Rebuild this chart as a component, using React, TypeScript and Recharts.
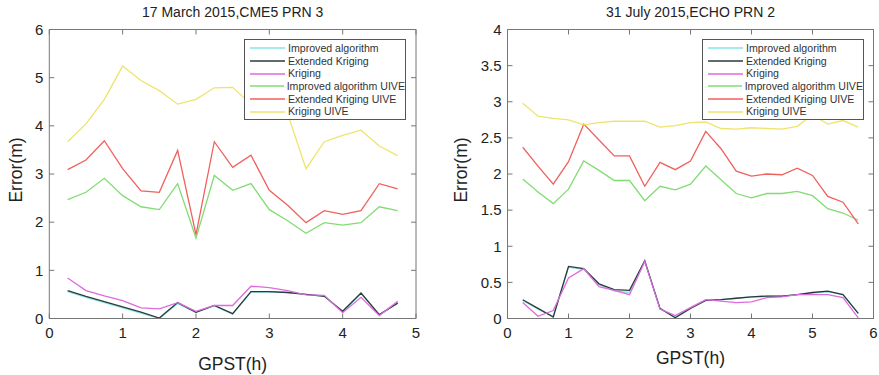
import { LineChart, Line, XAxis, YAxis, Legend } from "recharts";

// time axis (GPST hours), one sample every 15 min
const marchHours = [0.25, 0.5, 0.75, 1, 1.25, 1.5, 1.75, 2, 2.25, 2.5, 2.75, 3, 3.25, 3.5, 3.75, 4, 4.25, 4.5, 4.75];
const julyHours = [0.25, 0.5, 0.75, 1, 1.25, 1.5, 1.75, 2, 2.25, 2.5, 2.75, 3, 3.25, 3.5, 3.75, 4, 4.25, 4.5, 4.75, 5, 5.25, 5.5, 5.75];

const seriesNames = [
  "Improved algorithm",
  "Extended Kriging",
  "Kriging",
  "Improved algorithm UIVE",
  "Extended Kriging UIVE",
  "Kriging UIVE",
];

// 17 March 2015, CME5 PRN 3
const marchImproved = [0.56, 0.44, 0.33, 0.22, 0.11, 0.0, 0.31, 0.13, 0.26, 0.09, 0.55, 0.55, 0.54, 0.5, 0.47, 0.14, 0.52, 0.07, 0.33];
const marchExtended = [0.58, 0.46, 0.35, 0.24, 0.13, 0.01, 0.33, 0.13, 0.27, 0.1, 0.56, 0.56, 0.54, 0.5, 0.46, 0.15, 0.53, 0.08, 0.32];
const marchKriging = [0.84, 0.58, 0.47, 0.37, 0.22, 0.2, 0.33, 0.15, 0.27, 0.27, 0.67, 0.64, 0.58, 0.49, 0.48, 0.12, 0.44, 0.06, 0.36];
const marchImprovedUive = [2.47, 2.62, 2.91, 2.55, 2.32, 2.26, 2.8, 1.67, 2.97, 2.66, 2.8, 2.26, 2.03, 1.77, 1.99, 1.94, 1.99, 2.32, 2.24];
const marchExtendedUive = [3.09, 3.29, 3.69, 3.11, 2.65, 2.62, 3.49, 1.74, 3.67, 3.14, 3.39, 2.66, 2.35, 1.99, 2.24, 2.16, 2.24, 2.8, 2.69];
const marchKrigingUive = [3.67, 4.04, 4.55, 5.24, 4.94, 4.73, 4.45, 4.55, 4.79, 4.8, 4.45, 4.4, 4.25, 3.11, 3.67, 3.8, 3.91, 3.58, 3.38];

// 31 July 2015, ECHO PRN 2
const julyImproved = [0.25, 0.13, 0.03, 0.71, 0.68, 0.47, 0.38, 0.36, 0.79, 0.13, 0.02, 0.15, 0.25, 0.26, 0.28, 0.3, 0.31, 0.31, 0.33, 0.35, 0.37, 0.33, 0.07];
const julyExtended = [0.26, 0.14, 0.02, 0.72, 0.69, 0.48, 0.4, 0.39, 0.8, 0.14, 0.01, 0.14, 0.25, 0.26, 0.28, 0.3, 0.31, 0.31, 0.33, 0.36, 0.38, 0.33, 0.07];
const julyKriging = [0.22, 0.03, 0.11, 0.56, 0.69, 0.44, 0.39, 0.33, 0.79, 0.13, 0.04, 0.15, 0.26, 0.24, 0.22, 0.23, 0.29, 0.3, 0.33, 0.33, 0.33, 0.29, 0.01];
const julyImprovedUive = [1.93, 1.75, 1.59, 1.79, 2.18, 2.05, 1.91, 1.91, 1.63, 1.83, 1.78, 1.86, 2.11, 1.92, 1.73, 1.67, 1.73, 1.73, 1.76, 1.7, 1.52, 1.46, 1.36];
const julyExtendedUive = [2.37, 2.11, 1.86, 2.17, 2.69, 2.47, 2.25, 2.25, 1.83, 2.16, 2.06, 2.18, 2.59, 2.35, 2.04, 1.97, 2.0, 1.99, 2.08, 1.98, 1.69, 1.61, 1.31];
const julyKrigingUive = [2.98, 2.8, 2.77, 2.75, 2.68, 2.71, 2.73, 2.73, 2.73, 2.65, 2.67, 2.71, 2.72, 2.63, 2.62, 2.64, 2.63, 2.62, 2.66, 2.82, 2.69, 2.74, 2.65];

const marchXTicks = [0, 1, 2, 3, 4, 5];
const marchYTicks = [0, 1, 2, 3, 4, 5, 6];
const julyXTicks = [0, 1, 2, 3, 4, 5, 6];
const julyYTicks = [0, 0.5, 1, 1.5, 2, 2.5, 3, 3.5, 4];

const colors = ["#86e6e6", "#2b3b3a", "#de6ade", "#82dc74", "#f0605c", "#eee46c"];
const keys = ["s0", "s1", "s2", "s3", "s4", "s5"];
const FONT = '"Liberation Sans", Arial, sans-serif';
const BOX = "#777";

// box-only axes: keep the inward tick marks, no labels
const NoLabel = () => <g />;

const LegendBox = ({ payload }: any) => {
  const items = seriesNames.map((n) => (payload || []).find((p: any) => p.value === n)).filter(Boolean);
  return (
    <div
      style={{
        border: "1px solid #555",
        background: "#fff",
        width: 162,
        height: 81,
        paddingTop: 2,
        boxSizing: "border-box",
        fontFamily: FONT,
      }}
    >
      {items.map((e: any) => (
        <div key={e.value} style={{ display: "flex", alignItems: "center", height: 12.7 }}>
          <svg width={40} height={4} style={{ display: "block" }}>
            <line x1={5} x2={40} y1={2} y2={2} stroke={e.color} strokeWidth={1.3} />
          </svg>
          <span style={{ marginLeft: 3, fontSize: 10.6, color: "#333", lineHeight: "12.7px", whiteSpace: "nowrap" }}>
            {e.value}
          </span>
        </div>
      ))}
    </div>
  );
};

interface PanelProps {
  title: string;
  hours: number[];
  series: number[][];
  xTicks: number[];
  yTicks: number[];
  width: number;
  yAxisWidth: number;
  rightGap: number;
  legendLeft: number;
  errorX: number;
  gpstY: number;
}

function ErrorPanel(p: PanelProps) {
  const data = p.hours.map((h, i) => {
    const row: any = { h };
    p.series.forEach((s, k) => (row[keys[k]] = s[i]));
    return row;
  });
  const xDomain = [p.xTicks[0], p.xTicks[p.xTicks.length - 1]];
  const yDomain = [p.yTicks[0], p.yTicks[p.yTicks.length - 1]];
  const tickStyle = { fontSize: 15, fill: "#222", fontFamily: FONT };

  return (
    <div style={{ position: "relative", width: p.width, height: 375 }}>
      <div
        style={{
          position: "absolute",
          left: p.yAxisWidth,
          width: p.width - p.yAxisWidth - p.rightGap,
          top: 4,
          textAlign: "center",
          fontSize: 14,
          lineHeight: "17px",
          color: "#222",
          fontFamily: FONT,
        }}
      >
        {p.title}
      </div>
      <LineChart
        width={p.width}
        height={375}
        data={data}
        margin={{ top: 28.5, right: p.rightGap - 1, left: 0, bottom: 0 }}
      >
        <XAxis
          dataKey="h"
          type="number"
          domain={xDomain}
          ticks={p.xTicks}
          allowDataOverflow
          height={56.5}
          tickSize={-5}
          tickMargin={14}
          tick={tickStyle}
          axisLine={{ stroke: BOX }}
          tickLine={{ stroke: BOX }}
          label={(lp: any) => (
            <text
              x={lp.viewBox.x + lp.viewBox.width / 2}
              y={lp.viewBox.y + p.gpstY}
              textAnchor="middle"
              dominantBaseline="central"
              fontSize={17.5}
              fill="#222"
              fontFamily={FONT}
            >
              GPST(h)
            </text>
          )}
        />
        <XAxis
          xAxisId="top"
          dataKey="h"
          orientation="top"
          type="number"
          domain={xDomain}
          ticks={p.xTicks}
          allowDataOverflow
          height={1}
          tickSize={-5}
          tickMargin={0}
          tick={NoLabel}
          axisLine={{ stroke: BOX }}
          tickLine={{ stroke: BOX }}
        />
        <YAxis
          type="number"
          domain={yDomain}
          ticks={p.yTicks}
          allowDataOverflow
          width={p.yAxisWidth}
          tickSize={-5}
          tickMargin={11}
          tick={tickStyle}
          axisLine={{ stroke: BOX }}
          tickLine={{ stroke: BOX }}
          label={(lp: any) => {
            const cx = lp.viewBox.x + p.errorX;
            const cy = lp.viewBox.y + lp.viewBox.height / 2 - 4;
            return (
              <text
                x={cx}
                y={cy}
                transform={`rotate(-90, ${cx}, ${cy})`}
                textAnchor="middle"
                dominantBaseline="central"
                fontSize={17.5}
                fill="#222"
                fontFamily={FONT}
              >
                Error(m)
              </text>
            );
          }}
        />
        <YAxis
          yAxisId="right"
          orientation="right"
          type="number"
          domain={yDomain}
          ticks={p.yTicks}
          allowDataOverflow
          width={1}
          tickSize={-5}
          tickMargin={0}
          tick={NoLabel}
          axisLine={{ stroke: BOX }}
          tickLine={{ stroke: BOX }}
        />
        {seriesNames.map((name, k) => (
          <Line
            key={name}
            name={name}
            dataKey={keys[k]}
            type="linear"
            stroke={colors[k]}
            strokeWidth={1.3}
            dot={false}
            activeDot={false}
            isAnimationActive={false}
          />
        ))}
        <Legend
          layout="vertical"
          align="center"
          verticalAlign="middle"
          content={<LegendBox />}
          wrapperStyle={{ left: p.legendLeft, top: 39, width: 162, height: 81 }}
        />
      </LineChart>
    </div>
  );
}

export default function App() {
  return (
    <div
      style={{
        position: "absolute",
        left: 0,
        top: 0,
        width: 879,
        height: 375,
        background: "#fff",
        display: "flex",
        fontFamily: FONT,
      }}
    >
      <ErrorPanel
        title="17 March 2015,CME5 PRN 3"
        hours={marchHours}
        series={[marchImproved, marchExtended, marchKriging, marchImprovedUive, marchExtendedUive, marchKrigingUive]}
        xTicks={marchXTicks}
        yTicks={marchYTicks}
        width={440}
        yAxisWidth={49.3}
        rightGap={24}
        legendLeft={244}
        errorX={15.5}
        gpstY={45}
      />
      <ErrorPanel
        title="31 July 2015,ECHO PRN 2"
        hours={julyHours}
        series={[julyImproved, julyExtended, julyKriging, julyImprovedUive, julyExtendedUive, julyKrigingUive]}
        xTicks={julyXTicks}
        yTicks={julyYTicks}
        width={439}
        yAxisWidth={67.5}
        rightGap={5.5}
        legendLeft={262}
        errorX={20.5}
        gpstY={39}
      />
    </div>
  );
}
